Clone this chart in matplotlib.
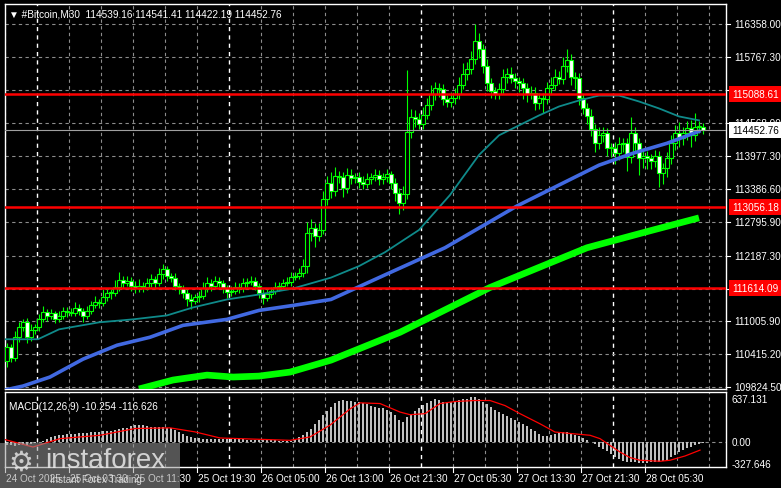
import numpy as np
import matplotlib
matplotlib.use("Agg")
import matplotlib.pyplot as plt
from matplotlib.patches import Rectangle

W, H = 781, 489

# closes, 30 min candles (open = previous close)
closes = [
    110540, 110350, 110720, 110900, 110990, 110720, 110850, 110900, 111050, 111170,
    111100, 111150, 111050, 111110, 111200, 111170, 111160, 111250, 111200, 111110,
    111200, 111300, 111350, 111340, 111450, 111520, 111520, 111620, 111750, 111700,
    111740, 111650, 111600, 111650, 111620, 111700, 111760, 111700, 111850, 111940,
    111820, 111790, 111650, 111600, 111520, 111400, 111380, 111440, 111470, 111600,
    111700, 111650, 111740, 111700, 111600, 111530, 111560, 111620, 111600, 111700,
    111720, 111740, 111650, 111520, 111430, 111500, 111560, 111620, 111650, 111700,
    111720, 111800, 111830, 111880, 112000, 112600, 112690, 112550, 112650, 113200,
    113500, 113350, 113620, 113600, 113400, 113640, 113580, 113600, 113520, 113480,
    113560, 113600, 113640, 113560, 113600, 113650, 113500, 113320, 113130, 113300,
    114420, 114680, 114650, 114560, 114720, 114900, 115100, 115200, 115190, 115000,
    114950, 115020, 115100, 115260, 115450, 115550, 115730, 116050, 115900, 115600,
    115300, 115150, 115100, 115190, 115400, 115460, 115380, 115330, 115290, 115200,
    115100, 115120, 114930, 115020, 115010, 115200, 115250, 115410, 115370, 115600,
    115700, 115400, 115380, 115020, 114840, 114700, 114460, 114210, 114350, 114390,
    114120, 114120, 114030, 114200, 114210, 113970, 114390, 114210, 113940, 113980,
    113940, 113900, 113980, 113670, 113760, 113940, 114210, 114390, 114300, 114390,
    114480, 114350, 114510, 114510, 114452.76,
]
first_open = 110300
wick_up = [
    80, 60, 120, 90, 60, 70, 100, 60, 80, 120, 60, 80, 50, 90, 70, 60, 80, 100, 60, 50,
    90, 70, 120, 60, 140, 80, 60, 130, 150, 70, 90, 60, 80, 110, 60, 90, 100, 60, 120, 90,
    70, 60, 80, 50, 60, 70, 90, 60, 80, 120, 100, 60, 90, 70, 50, 60, 80, 100, 70, 90,
    60, 80, 70, 50, 60, 80, 60, 90, 70, 60, 80, 90, 60, 80, 120, 200, 150, 90, 120, 150,
    120, 200, 160, 100, 90, 120, 100, 80, 90, 100, 120, 80, 100, 90, 80, 100, 60, 80, 90, 150,
    1100, 150, 120, 100, 150, 130, 160, 120, 100, 90, 80, 120, 100, 150, 200, 130, 140, 300, 150, 100,
    120, 90, 80, 110, 150, 100, 120, 90, 80, 100, 90, 120, 110, 100, 90, 120, 150, 130, 100, 160,
    200, 120, 100, 90, 80, 100, 120, 100, 150, 120, 90, 100, 110, 120, 100, 90, 300, 120, 100, 90,
    100, 80, 110, 90, 100, 120, 140, 150, 200, 120, 130, 150, 250, 100, 60,
]
wick_dn = [
    120, 80, 60, 90, 70, 100, 60, 80, 70, 60, 90, 50, 80, 60, 70, 90, 60, 50, 80, 120,
    60, 70, 50, 100, 60, 80, 120, 60, 70, 90, 60, 100, 80, 60, 90, 50, 70, 110, 60, 80,
    90, 70, 80, 100, 90, 120, 150, 60, 80, 70, 60, 90, 50, 70, 80, 100, 60, 70, 90, 60,
    70, 60, 80, 100, 120, 60, 80, 70, 60, 50, 60, 70, 50, 60, 80, 120, 150, 200, 100, 80,
    100, 120, 90, 100, 150, 80, 100, 90, 120, 100, 80, 90, 70, 100, 80, 90, 120, 150, 200, 120,
    100, 120, 150, 100, 90, 80, 100, 120, 150, 100, 90, 80, 100, 90, 80, 100, 90, 100, 150, 120,
    150, 120, 100, 90, 80, 100, 90, 120, 150, 200, 150, 100, 120, 100, 250, 90, 100, 80, 100, 90,
    100, 150, 200, 120, 100, 150, 120, 150, 100, 120, 130, 150, 200, 120, 150, 250, 120, 150, 300, 180,
    200, 150, 120, 250, 200, 150, 100, 120, 150, 130, 120, 200, 100, 120, 80,
]

# moving averages: (candle index, price)
ma_teal_x = [-0.5, 7.75, 13, 23, 31.5, 40, 46.5, 55, 63, 71.5, 81, 88, 94.5, 103, 110.75,
             118, 123, 128, 133, 138, 143, 148, 153, 158, 163, 168, 173]
ma_teal_y = [110684, 110684, 110862, 110988, 111042, 111113, 111256, 111400, 111489,
             111597, 111793, 112000, 112250, 112650, 113279, 114000, 114353, 114532, 114711,
             114872, 114980, 115069, 115069, 114962, 114837, 114693, 114622]
ma_blue_x = [-0.5, 4, 10.75, 19, 27.5, 35.75, 44, 55, 63, 71.5, 81, 95.75, 109.5,
             127.5, 140, 148, 156.5, 165, 173]
ma_blue_y = [109771, 109842, 110004, 110326, 110576, 110720, 110934, 111042, 111203,
             111292, 111400, 111883, 112330, 113082, 113530, 113816, 114031, 114210, 114425]
ma_green_x = [33, 41.5, 50, 56.5, 63, 70.75, 81, 98.25, 120.75, 145, 160.75, 173]
ma_green_y = [109789, 109950, 110039, 110004, 110021, 110093, 110308, 110809, 111615,
              112330, 112635, 112868]

levels = [115088.61, 113056.18, 111614.09]
last_price = 114452.76
price_ticks = [116358.00, 115767.30, 115176.60, 114568.00, 113977.30, 113386.60,
               112795.90, 112187.30, 111596.60, 111005.90, 110415.20, 109824.50]

macd_hist = [
    -40, -50, -55, -50, -45, -40, -30, -20, -5, 15,
    40, 70, 90, 100, 110, 115, 120, 125, 130, 135,
    140, 145, 150, 155, 160, 165, 170, 180, 190, 205,
    215, 230, 245, 250, 245, 235, 225, 220, 220, 220,
    215, 205, 185, 150, 120, 90, 70, 60, 55, 50,
    50, 48, 50, 52, 50, 48, 50, 45, 40, 38,
    35, 35, 32, 30, 28, 28, 25, 25, 22, 20,
    20, 22, 40, 75, 110, 150, 200, 260, 330, 400,
    460, 520, 580, 610, 620, 615, 610, 600, 590, 580,
    560, 540, 520, 510, 500, 480, 450, 400, 320, 300,
    370, 420, 460, 500, 545, 575, 610, 635, 620, 600,
    590, 600, 610, 625, 635, 640, 660, 670, 640, 600,
    560, 520, 470, 440, 410, 380, 350, 330, 300, 270,
    230, 200, 160, 120, 90, 95, 110, 120, 135, 145,
    145, 130, 110, 90, 60, 30, 0, -30, -70, -100,
    -140, -180, -215, -250, -280, -290, -295, -300, -305, -308,
    -305, -300, -298, -295, -285, -260, -225, -190, -150, -120,
    -90, -70, -50, -30, -15,
]
signal_x = [-1, 6.5, 13.25, 23.25, 32, 40.75, 47, 53.25, 63.25, 70.75, 75.75, 80.75,
            85.75, 88.25, 93.25, 98.25, 100.75, 104.5, 108.25, 112, 117, 120.75, 124.5,
            128.25, 133.25, 137, 142, 145.75, 148.25, 150.75, 153.25, 155.75, 158.25,
            163.25, 165.75, 169.5, 173.25]
signal_y = [44, -74, 50, 100, 200, 210, 150, 60, 40, 25, 75, 250, 490, 580, 570, 444,
            405, 420, 570, 600, 615, 615, 540, 420, 270, 148, 120, 100, 50, -50, -148,
            -230, -270, -285, -270, -207, -120]

time_labels = ["24 Oct 2025", "25 Oct 03:30", "25 Oct 11:30", "25 Oct 19:30",
               "26 Oct 05:00", "26 Oct 13:00", "26 Oct 21:30", "27 Oct 05:30",
               "27 Oct 13:30", "27 Oct 21:30", "28 Oct 05:30"]

FG = "white"
GRID = "#8c8c8c"
FS = 7.2
plt.rcParams['font.family'] = ['Liberation Sans', 'DejaVu Sans']

fig = plt.figure(figsize=(W / 100, H / 100), dpi=100, facecolor="black")


def px_axes(x0, y0, x1, y1):
    return fig.add_axes([x0 / W, 1 - y1 / H, (x1 - x0) / W, (y1 - y0) / H])


ax = px_axes(5, 5, 726, 390)
mx = px_axes(5, 393, 726, 468)
n = len(closes)
xmin, xmax = -0.5, -0.5 + 721 / 4
for a in (ax, mx):
    a.set_facecolor("black")
    a.set_xlim(xmin, xmax)
    a.set_xticks([])
    a.set_yticks([])
    for s in a.spines.values():
        s.set_color(FG)
        s.set_linewidth(1)

ax.set_ylim(109788.7, 116716)
mx.set_ylim(-370, 741)

# grid
grid_x = np.arange(-0.5, xmax, 8)
for g in grid_x:
    day = abs((g - 7.5) % 48) < 0.01
    for a in (ax, mx):
        a.axvline(g, color="white" if day else GRID, lw=1.0 if day else 0.8,
                  ls=(0, (3, 3)), zorder=0)
for p in price_ticks:
    ax.axhline(p, color=GRID, lw=0.8, ls=(0, (3, 3)), zorder=0)
mx.axhline(0, color=GRID, lw=0.8, ls=(0, (3, 3)), zorder=0)

# candles
opens = [first_open] + closes[:-1]
idx = np.arange(n)
hi = [max(o, c) + u for o, c, u in zip(opens, closes, wick_up)]
lo = [min(o, c) - d for o, c, d in zip(opens, closes, wick_dn)]
ax.vlines(idx, lo, hi, color="#00ff00", lw=0.8, zorder=3)
for i in range(n):
    o, c = opens[i], closes[i]
    face = "black" if c >= o else "white"
    bot = min(o, c)
    h = max(abs(c - o), 15)
    ax.add_patch(Rectangle((i - 0.4, bot), 0.8, h, facecolor=face,
                           edgecolor="#00ff00", lw=0.8, zorder=4))

ax.plot(ma_teal_x, ma_teal_y, color="#0f8a8a", lw=1.3, zorder=5)
ax.plot(ma_blue_x, ma_blue_y, color="#4169e1", lw=2.6, zorder=5)
ax.plot(ma_green_x, ma_green_y, color="#00ff00", lw=4.8, zorder=5, solid_capstyle="butt")

for lv in levels:
    ax.axhline(lv, color="#ff0000", lw=1.8, zorder=6)
ax.axhline(last_price, color="#a0a0a0", lw=0.8, zorder=6)

# right price scale
ty = ax.get_yaxis_transform()
for p in price_ticks:
    ax.plot([1.0, 1.006], [p, p], transform=ty, color=FG, lw=0.8, clip_on=False)
    ax.text(1.012, p, f"{p:.2f}", transform=ty, color=FG, fontsize=FS,
            va="center", ha="left")
for lv in levels:
    ax.text(1.008, lv, f"{lv:.2f}", transform=ty, color="#ffffff", fontsize=FS,
            va="center", ha="left", zorder=10,
            bbox=dict(boxstyle="square,pad=0.3", fc="#ff0000", ec="none"))
ax.text(1.008, last_price, f"{last_price:.2f}", transform=ty, color="black", fontsize=FS,
        va="center", ha="left", zorder=10,
        bbox=dict(boxstyle="square,pad=0.3", fc="white", ec="none"))

ax.text(0.005, 0.988, "\u25bc #Bitcoin,M30  114539.16 114541.41 114422.19 114452.76",
        transform=ax.transAxes, color=FG, fontsize=FS, va="top", ha="left")

# MACD
mx.bar(idx, macd_hist, width=0.7, color="#c0c0c0", zorder=2)
mx.plot(signal_x, signal_y, color="#ff0000", lw=0.9, zorder=3)
mx.text(0.005, 0.88, "MACD(12,26,9) -10.254 -116.626", transform=mx.transAxes,
        color=FG, fontsize=FS, va="top", ha="left")
my = mx.get_yaxis_transform()
for v, s in [(637.131, "637.131"), (0, "0.00"), (-327.646, "-327.646")]:
    mx.text(1.008, v, s, transform=my, color=FG, fontsize=FS, va="center", ha="left")

# time labels
for k, lab in enumerate(time_labels):
    xi = -0.5 + 16 * k
    mx.plot([xi, xi], [0, -0.06], transform=mx.get_xaxis_transform(), color=FG,
            lw=0.8, clip_on=False)
    mx.text(xi + 0.3, -0.08, lab, transform=mx.get_xaxis_transform(), color=FG,
            fontsize=FS, va="top", ha="left")

# watermark
fig.patches.append(Rectangle((0, 0), 180 / W, 45 / H, transform=fig.transFigure,
                             facecolor="#9a9a9a", alpha=0.55, edgecolor="none", zorder=20))
fig.text(8 / W, 1 - 463 / H, "\u2699", color="#e8e8e8", fontsize=20, va="center",
         ha="left", zorder=21, alpha=0.8, family=['DejaVu Sans'])
fig.text(45 / W, 1 - 461 / H, "instaforex", color="#e8e8e8", fontsize=20, va="center",
         ha="left", zorder=21, alpha=0.85)
fig.text(50 / W, 1 - 480 / H, "Instant Forex Trading", color="#e8e8e8", fontsize=7,
         va="center", ha="left", zorder=21, alpha=0.85)

fig.savefig("out.png", dpi=100, facecolor="black")
